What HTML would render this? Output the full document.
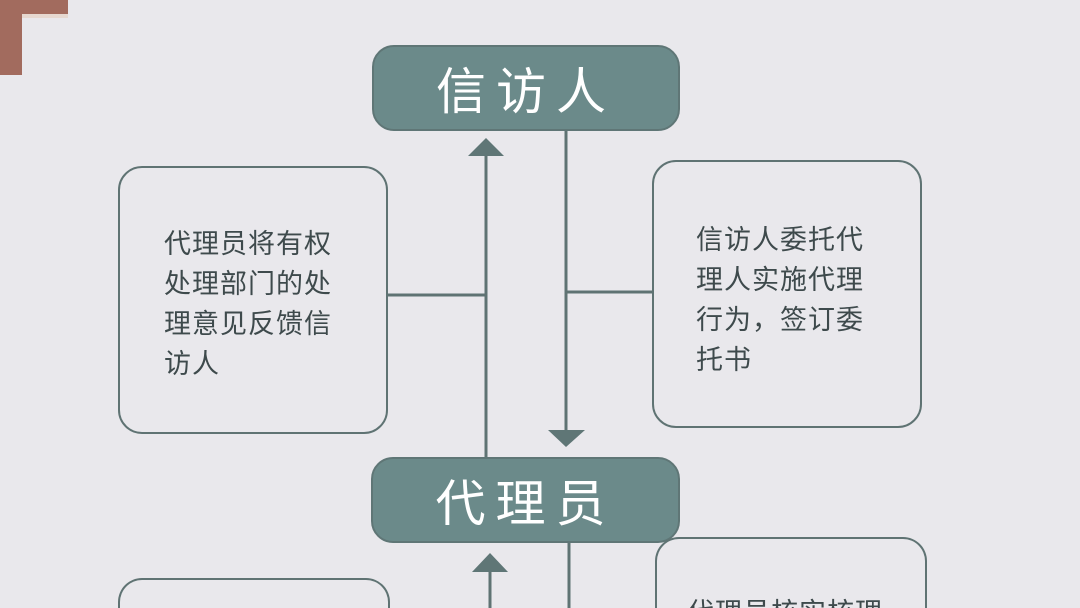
<!DOCTYPE html>
<html style="width:1080px;height:608px;overflow:hidden"><head><meta charset="utf-8"><style>
body{margin:0;width:1080px;height:608px;overflow:hidden;background:#e9e8ec;position:relative;font-family:"Liberation Sans","Noto Sans CJK SC",sans-serif}
.n{position:absolute;background:#6b8a8a;border:2px solid #5f7676;border-radius:22px;color:#fff;font-size:50px;display:flex;align-items:center;justify-content:center;letter-spacing:10px;box-sizing:border-box}
.b{position:absolute;border:2.5px solid #5f7373;border-radius:24px;box-sizing:border-box;color:#3e4a4c;font-size:27px;line-height:40px;letter-spacing:1px}
</style></head><body>
<div style="position:absolute;left:0;top:0;width:68px;height:14px;background:#a26b5e"></div>
<div style="position:absolute;left:0;top:0;width:22px;height:75px;background:#a26b5e"></div>
<div style="position:absolute;left:22px;top:14px;width:46px;height:4px;background:#e6d8d0"></div>
<svg width="1080" height="608" style="position:absolute;left:0;top:0">
<g stroke="#5f7373" stroke-width="3" fill="none">
<line x1="486" y1="152" x2="486" y2="458"/>
<line x1="566" y1="131" x2="566" y2="432"/>
<line x1="388" y1="295" x2="486" y2="295"/>
<line x1="566" y1="292" x2="652" y2="292"/>
<line x1="490" y1="570" x2="490" y2="608"/>
<line x1="569" y1="543" x2="569" y2="608"/>
</g>
<g fill="#5f7676">
<polygon points="468,156 504,156 486,138"/>
<polygon points="548,430 585,430 566,447"/>
<polygon points="472,572 508,572 490,553"/>
</g>
</svg>
<div class="n" style="left:372px;top:45px;width:308px;height:86px">信访人</div>
<div class="n" style="left:371px;top:457px;width:309px;height:86px">代理员</div>
<div class="b" style="left:118px;top:166px;width:270px;height:268px;padding:56px 0 0 44px">代理员将有权<br>处理部门的处<br>理意见反馈信<br>访人</div>
<div class="b" style="left:652px;top:160px;width:270px;height:268px;padding:58px 0 0 42px">信访人委托代<br>理人实施代理<br>行为，签订委<br>托书</div>
<div class="b" style="left:118px;top:578px;width:272px;height:30px;border-bottom:none;border-radius:24px 24px 0 0"></div>
<div class="b" style="left:655px;top:537px;width:272px;height:71px;border-bottom:none;border-radius:24px 24px 0 0;padding:54px 0 0 30px;overflow:hidden">代理员核实核理</div>
</body></html>
